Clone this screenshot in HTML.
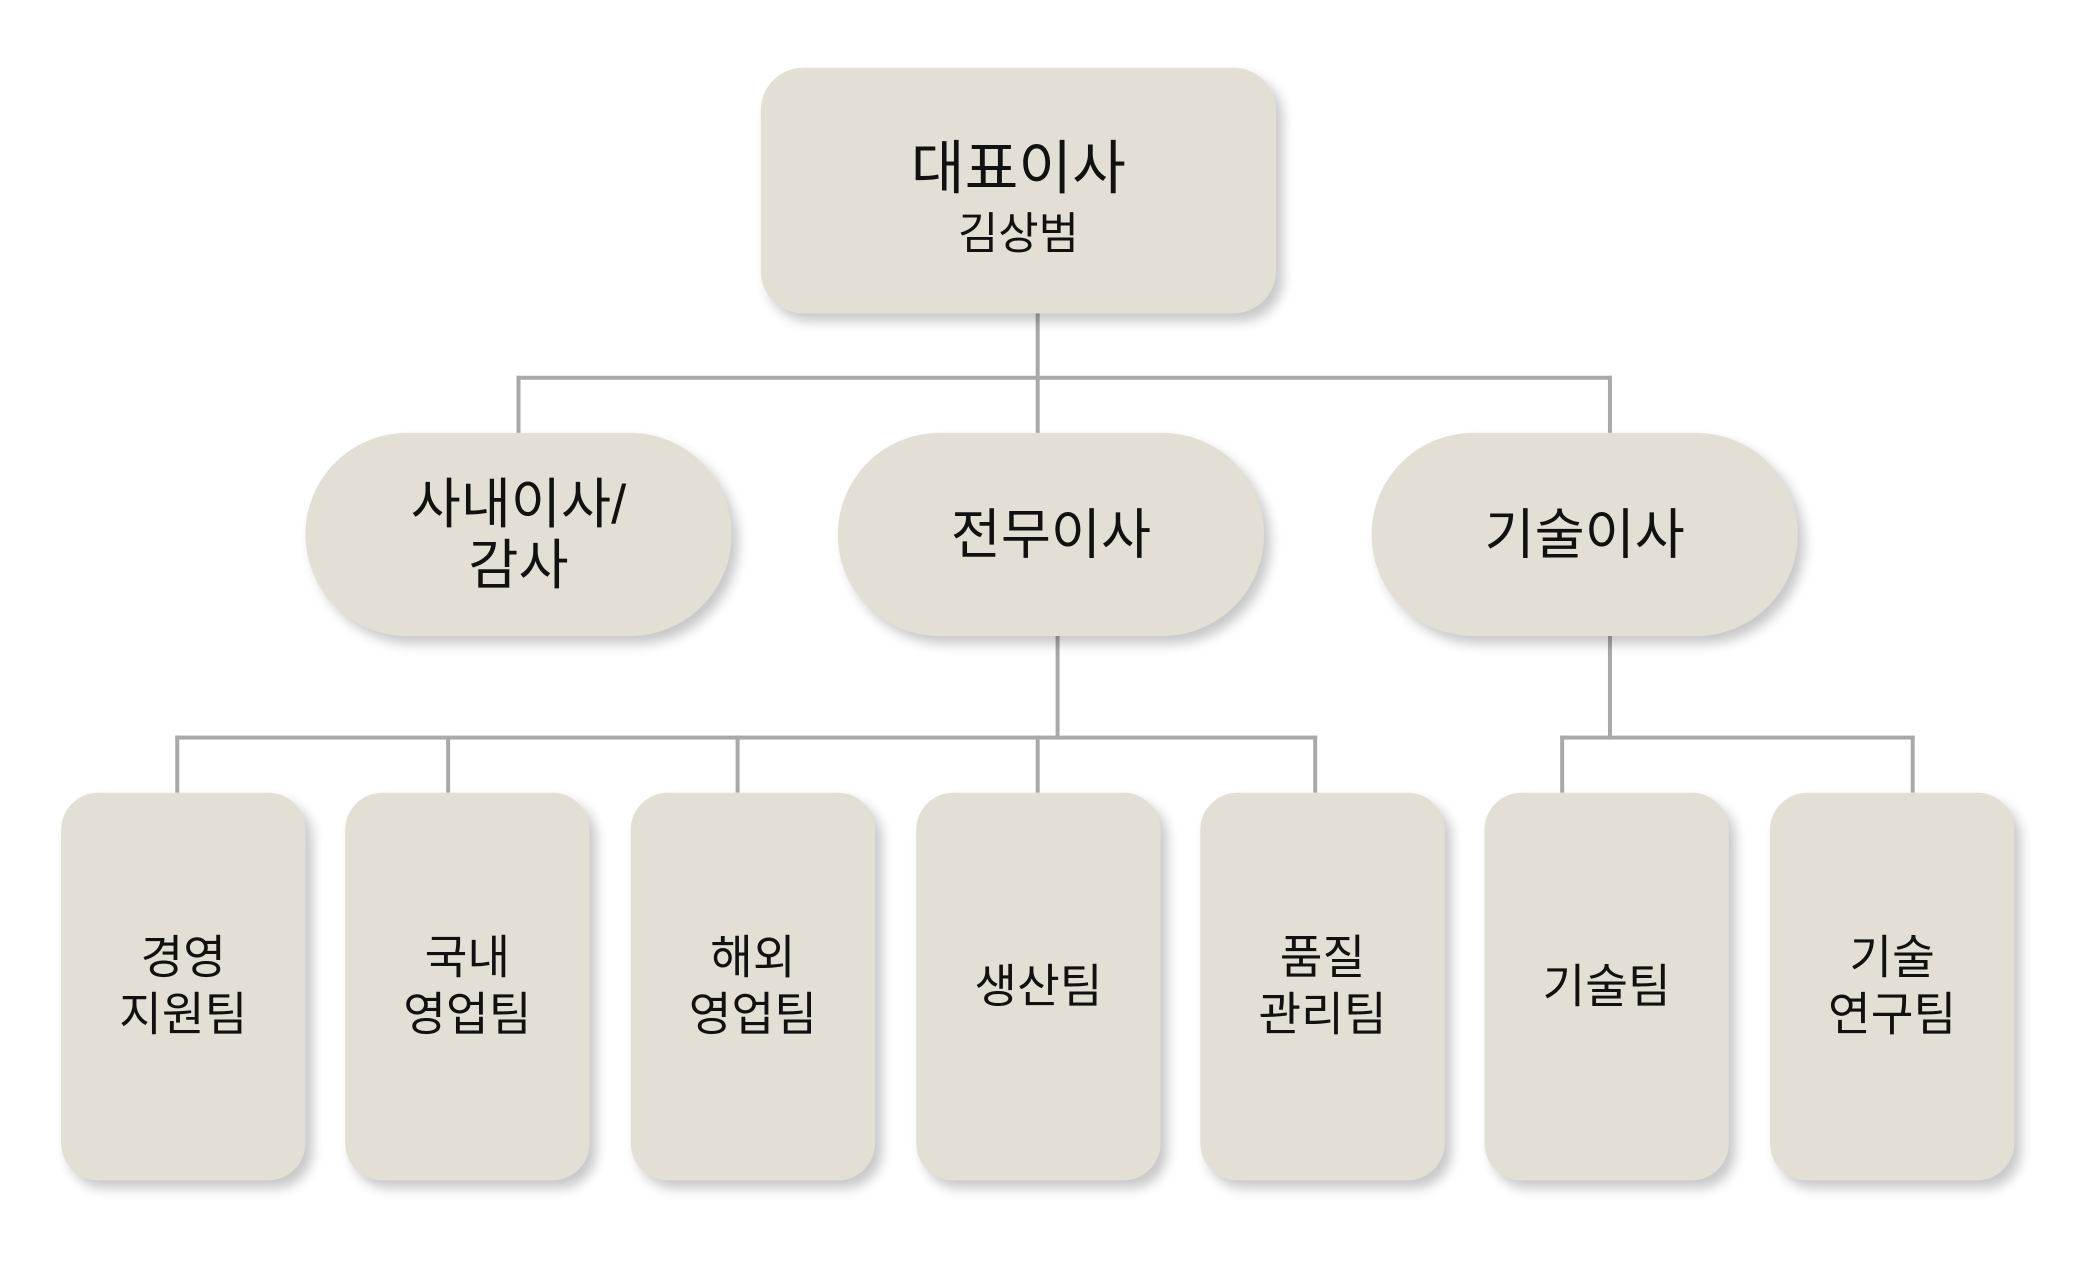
<!DOCTYPE html>
<html><head><meta charset="utf-8"><style>
html,body{margin:0;padding:0;background:#fff;width:2082px;height:1272px;overflow:hidden}
#w{position:absolute;left:0;top:0;width:1568px;height:958px;transform:scale(1.3278);transform-origin:0 0;font-family:"Liberation Sans","Noto Sans CJK KR",sans-serif;color:#111}
.b{position:absolute;background:#e3dfd5;box-shadow:5px 6px 9px rgba(0,0,0,0.22);display:flex;align-items:center;justify-content:center;text-align:center}
.l{position:absolute;background:#a9a9ac}
.h{height:3px}.v{width:3px}
.m{height:153px;top:326px;width:321px;border-radius:77px;font-size:41px;line-height:46px}
.s{top:597px;width:184px;height:292px;border-radius:28px;font-size:35px;line-height:43px}
</style></head><body><div id="w">
<div class="l v" style="left:780px;top:236px;height:90px"></div>
<div class="l h" style="left:389px;top:283px;width:825px"></div>
<div class="l v" style="left:389px;top:283px;height:43px"></div>
<div class="l v" style="left:1211px;top:283px;height:43px"></div>
<div class="l v" style="left:795px;top:479px;height:78px"></div>
<div class="l h" style="left:132px;top:554px;width:860px"></div>
<div class="l v" style="left:132px;top:554px;height:43px"></div>
<div class="l v" style="left:336px;top:554px;height:43px"></div>
<div class="l v" style="left:554px;top:554px;height:43px"></div>
<div class="l v" style="left:780px;top:554px;height:43px"></div>
<div class="l v" style="left:989px;top:554px;height:43px"></div>
<div class="l v" style="left:1211px;top:479px;height:78px"></div>
<div class="l h" style="left:1175px;top:554px;width:267px"></div>
<div class="l v" style="left:1175px;top:554px;height:43px"></div>
<div class="l v" style="left:1439px;top:554px;height:43px"></div>

<div class="b" style="left:573px;top:51px;width:388px;height:185px;border-radius:32px;flex-direction:column"><div style="font-size:44px;line-height:52px;margin-top:10px">대표이사</div><div style="font-size:33px;line-height:40px;margin-top:2px">김상범</div></div>

<div class="b m" style="left:230px">사내이사/<br>감사</div>
<div class="b m" style="left:631px">전무이사</div>
<div class="b m" style="left:1033px">기술이사</div>

<div class="b s" style="left:46px">경영<br>지원팀</div>
<div class="b s" style="left:260px">국내<br>영업팀</div>
<div class="b s" style="left:475px">해외<br>영업팀</div>
<div class="b s" style="left:690px">생산팀</div>
<div class="b s" style="left:904px">품질<br>관리팀</div>
<div class="b s" style="left:1118px">기술팀</div>
<div class="b s" style="left:1333px">기술<br>연구팀</div>
</div></body></html>
